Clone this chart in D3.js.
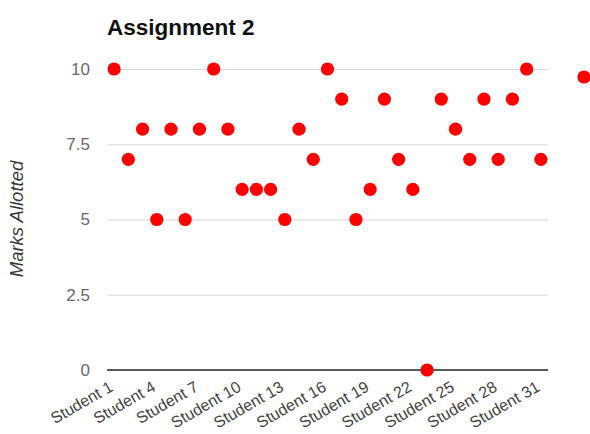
<!DOCTYPE html>
<html>
<head>
<meta charset="utf-8">
<script src="https://cdn.jsdelivr.net/npm/d3@7"></script>
<style>
  html, body { margin: 0; padding: 0; background: #fff; overflow: hidden; }
  svg { display: block; font-family: "Liberation Sans", Arial, sans-serif; }
</style>
</head>
<body>
<svg id="chart" width="590" height="434"></svg>
<script>
// Marks per student for Assignment 2
const students = d3.range(1, 32).map(i => "Student " + i);
const marks = [10, 7, 8, 5, 8, 5, 8, 10, 8, 6, 6, 6, 5, 8, 7, 10, 9, 5, 6, 9, 7, 6, 0, 9, 8, 7, 9, 7, 9, 10, 7];
const yTicks = [0, 2.5, 5, 7.5, 10];
const xTickLabels = students.filter((_, i) => i % 3 === 0);

(function draw() {
  const svg = d3.select("#chart");
  const plotLeft = 107, plotRight = 548, plotTop = 69, plotBottom = 370;
  const font = "Liberation Sans, Arial, sans-serif";

  const x = d3.scaleBand().domain(students).range([plotLeft, plotRight]).padding(0);
  const y = d3.scaleLinear().domain([0, 10]).range([plotBottom, plotTop]);

  // Title
  svg.append("text")
    .attr("x", 107).attr("y", 35)
    .attr("font-size", 22.5).attr("font-weight", "bold").attr("fill", "#111")
    .text("Assignment 2");

  // Horizontal gridlines + y labels
  const yAxis = d3.axisLeft(y).tickValues(yTicks).tickSize(-(plotRight - plotLeft)).tickPadding(17)
    .tickFormat(d => d3.format("~g")(d));
  const gy = svg.append("g").attr("transform", `translate(${plotLeft},0)`).call(yAxis);
  gy.select(".domain").remove();
  gy.selectAll(".tick line").attr("stroke", "#d6d6d6").attr("stroke-width", 1);
  gy.selectAll(".tick text").attr("fill", "#6a6a6a").attr("font-size", 17)
    .attr("font-family", font);

  // Baseline
  svg.append("line")
    .attr("x1", plotLeft).attr("x2", plotRight).attr("y1", y(0)).attr("y2", y(0))
    .attr("stroke", "#5a5a5a").attr("stroke-width", 2);

  // X axis labels, rotated
  const xAxis = d3.axisBottom(x).tickValues(xTickLabels).tickSize(0).tickPadding(0);
  const gx = svg.append("g").attr("transform", `translate(0,${plotBottom})`).call(xAxis);
  gx.select(".domain").remove();
  gx.selectAll(".tick text")
    .attr("fill", "#444").attr("font-size", 16)
    .attr("font-family", font)
    .attr("text-anchor", "end")
    .attr("dy", null)
    .attr("y", 0)
    .attr("transform", "translate(0,20) rotate(-30)");

  // Y axis title
  svg.append("text")
    .attr("transform", "translate(23,219) rotate(-90)")
    .attr("text-anchor", "middle")
    .attr("font-size", 18.5).attr("font-style", "italic").attr("fill", "#3a3a3a")
    .attr("font-family", font)
    .text("Marks Allotted");

  // Points
  svg.append("g").selectAll("circle")
    .data(marks)
    .join("circle")
    .attr("cx", (d, i) => x(students[i]) + x.bandwidth() / 2)
    .attr("cy", d => y(d))
    .attr("r", 6.6)
    .attr("fill", "#ff0000");

  // Series key marker at the right edge
  svg.append("circle")
    .attr("cx", 584).attr("cy", 77)
    .attr("r", 6.6).attr("fill", "#ff0000");
})();
</script>
</body>
</html>
